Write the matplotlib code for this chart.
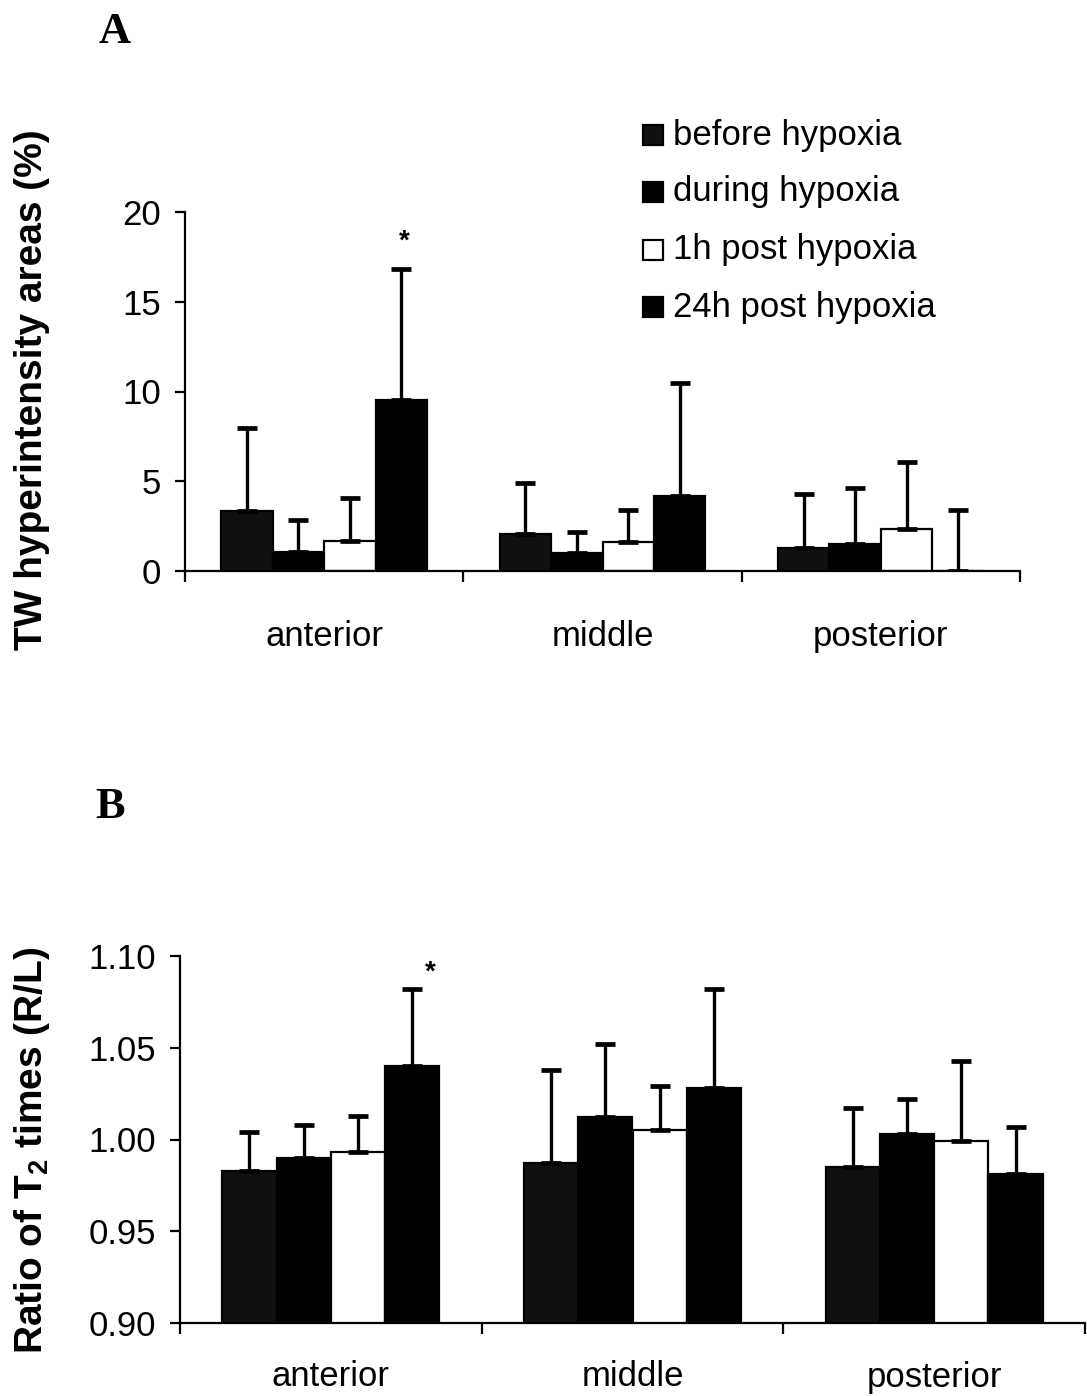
import numpy as np
import matplotlib
matplotlib.use("Agg")
import matplotlib.pyplot as plt
from matplotlib.patches import Rectangle

plt.rcParams['font.family'] = ['Liberation Sans', 'DejaVu Sans']

# ---- data ----
regions = ["anterior", "middle", "posterior"]
series = ["before hypoxia", "during hypoxia", "1h post hypoxia", "24h post hypoxia"]

# Panel A: TW hyperintensity areas (%), mean and upper SD per region
area_before = [3.35, 2.05, 1.30]
area_during = [1.05, 1.00, 1.50]
area_1h = [1.65, 1.60, 2.35]
area_24h = [9.50, 4.20, 0.00]
area_before_sd = [4.60, 2.85, 3.00]
area_during_sd = [1.80, 1.15, 3.10]
area_1h_sd = [2.40, 1.80, 3.75]
area_24h_sd = [7.35, 6.30, 3.40]

# Panel B: ratio of T2 times (R/L), mean and upper SD per region
t2_before = [0.983, 0.987, 0.985]
t2_during = [0.990, 1.012, 1.003]
t2_1h = [0.993, 1.005, 0.999]
t2_24h = [1.040, 1.028, 0.981]
t2_before_sd = [0.021, 0.051, 0.032]
t2_during_sd = [0.018, 0.040, 0.019]
t2_1h_sd = [0.020, 0.024, 0.044]
t2_24h_sd = [0.042, 0.054, 0.026]

colors = ["#101010", "#000000", "#ffffff", "#000000"]

W, H = 1087, 1396
fig = plt.figure(figsize=(W / 100, H / 100), dpi=100)


def px_axes(left, top, right, bottom):
    return fig.add_axes([left / W, 1 - bottom / H, (right - left) / W, (bottom - top) / H])


def draw_panel(ax, means, sds, width, ylim, yticks, yfmt, star_dx, star_dy, xpad):
    x = np.arange(len(regions))
    offsets = (np.arange(4) - 1.5) * width
    for k in range(4):
        ax.bar(x + offsets[k], means[k], width=width, color=colors[k],
               edgecolor="black", linewidth=1.6, zorder=2)
        ax.errorbar(x + offsets[k], means[k],
                    yerr=[np.zeros(len(regions)), sds[k]],
                    fmt="none", ecolor="black", elinewidth=2.4,
                    capsize=7.5, capthick=3.4, zorder=3)
    # significance mark above anterior 24h bar
    top = means[3][0] + sds[3][0]
    ax.text(x[0] + offsets[3] + star_dx, top + star_dy, "*",
            ha="center", va="center", fontsize=20, fontweight="bold")

    ax.set_xlim(-0.5, 2.5)
    ax.set_ylim(*ylim)
    ax.set_yticks(yticks)
    ax.set_yticklabels([yfmt.format(v) for v in yticks])
    ax.set_xticks(x)
    ax.set_xticklabels(regions)
    ax.set_xticks([-0.5, 0.5, 1.5, 2.5], minor=True)
    ax.tick_params(axis="x", which="major", length=0, pad=xpad, labelsize=25)
    ax.tick_params(axis="x", which="minor", length=8, width=1.6, direction="out")
    ax.tick_params(axis="y", which="major", length=7, width=1.6, direction="out",
                   pad=10, labelsize=25)
    for s in ("top", "right"):
        ax.spines[s].set_visible(False)
    for s in ("left", "bottom"):
        ax.spines[s].set_linewidth(1.6)
    ax.spines["bottom"].set_bounds(-0.5, 2.5)


axA = px_axes(185, 212, 1020, 571)
draw_panel(axA,
           [area_before, area_during, area_1h, area_24h],
           [area_before_sd, area_during_sd, area_1h_sd, area_24h_sd],
           0.185, (0, 20), [0, 5, 10, 15, 20], "{:.0f}", 0.01, 1.5, 35)

axB = px_axes(180, 956, 1085, 1323)
draw_panel(axB,
           [t2_before, t2_during, t2_1h, t2_24h],
           [t2_before_sd, t2_during_sd, t2_1h_sd, t2_24h_sd],
           0.18, (0.90, 1.10), [0.90, 0.95, 1.00, 1.05, 1.10], "{:.2f}", 0.06, 0.009, 27)

# y-axis titles
fig.text(32 / W, 1 - 390 / H, "TW hyperintensity areas (%)", rotation=90,
         ha="center", va="center", fontsize=28, fontweight="bold")
fig.text(32 / W, 1 - 1150 / H, r"Ratio of T$_\mathregular{2}$ times (R/L)", rotation=90,
         ha="center", va="center", fontsize=28, fontweight="bold")

# panel letters
fig.text(115 / W, 1 - 32 / H, "A", ha="center", va="center", fontsize=32,
         fontweight="bold", family="Liberation Serif")
fig.text(110 / W, 1 - 807 / H, "B", ha="center", va="center", fontsize=32,
         fontweight="bold", family="Liberation Serif")

# legend
leg_y = [135, 192, 250, 307]
for lab, col, yy in zip(series, colors, leg_y):
    fig.patches.append(Rectangle((643 / W, 1 - (yy + 10) / H), 20 / W, 20 / H,
                                 transform=fig.transFigure, facecolor=col,
                                 edgecolor="black", linewidth=1.6))
    fig.text(673 / W, 1 - yy / H, lab, ha="left", va="center", fontsize=25)

fig.savefig("out.png", dpi=100, facecolor="white")
